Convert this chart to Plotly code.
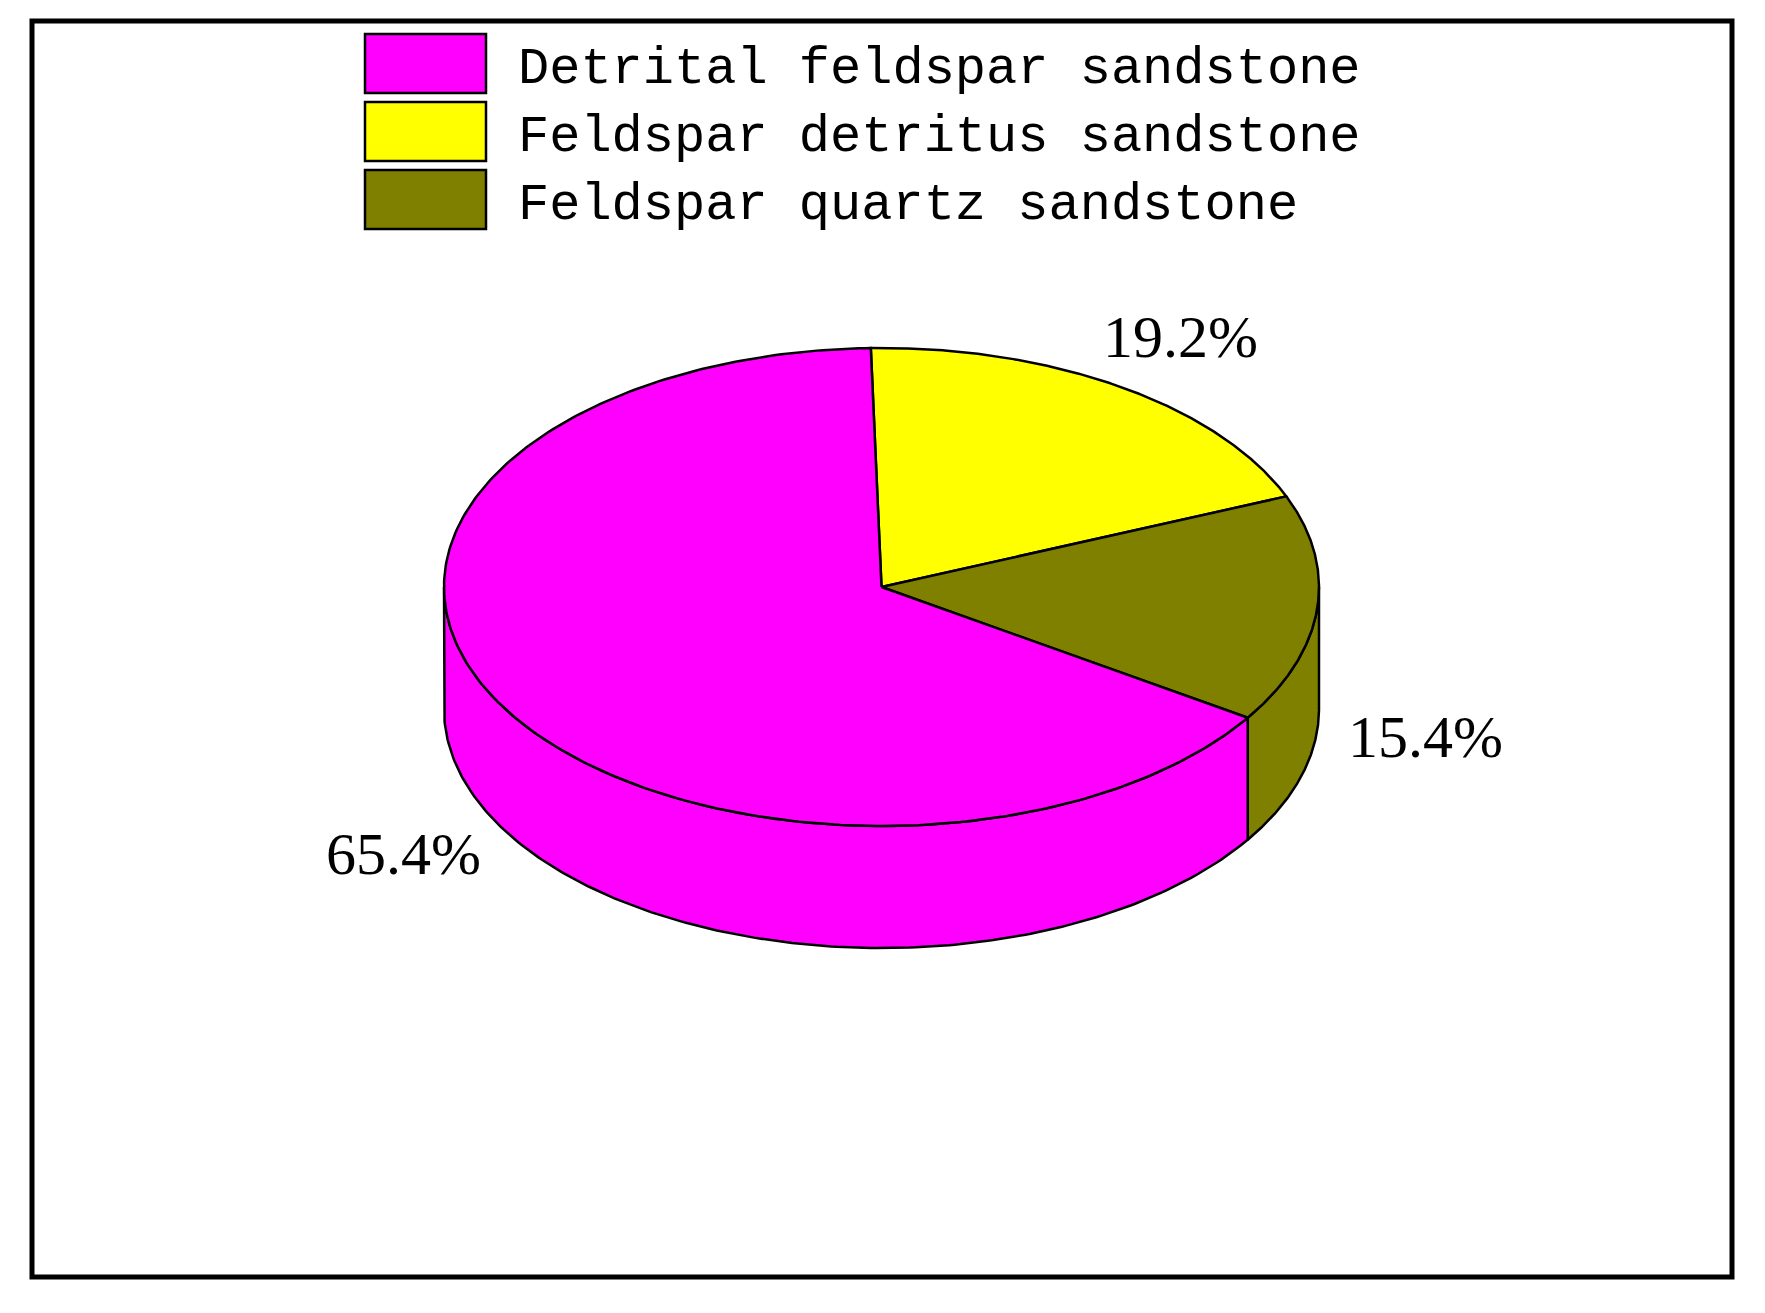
import numpy as np
import plotly.graph_objects as go

categories = ["Detrital feldspar sandstone", "Feldspar detritus sandstone", "Feldspar quartz sandstone"]
values = [65.4, 19.2, 15.4]
colors = ["#FF00FF", "#FFFF00", "#808000"]

# draw order around the pie (clockwise from top): yellow, olive, magenta
draw_order = [1, 2, 0]

W, H = 1765, 1313
OFF = 8  # default page body margin
CX, CY, RX, RY, DEPTH = 881.5, 587.0, 437.5, 239.0, 122.0
START = 91.4  # degrees, parametric, CCW from +x; slices go clockwise
LW = 2.5

def pt(t_deg, dy=0.0):
    t = np.radians(t_deg)
    return CX + RX * np.cos(t), CY - RY * np.sin(t) + dy

fig = go.Figure()

total = sum(values)
spans = {}
a = START
for i in draw_order:
    sweep = 360.0 * values[i] / total
    spans[i] = (a, a - sweep)
    a -= sweep

# side faces (front half: parametric angles in [-180, 0])
for i in draw_order:
    s, e = spans[i]
    hi, lo = min(s, 0.0), max(e, -180.0)
    if hi <= lo:
        continue
    ts = np.linspace(hi, lo, 200)
    xt, yt = pt(ts)
    xb, yb = pt(ts[::-1], DEPTH)
    xs = np.concatenate([xt, xb, xt[:1]])
    ys = np.concatenate([yt, yb, yt[:1]])
    fig.add_trace(go.Scatter(x=xs, y=ys, mode="lines", fill="toself",
                             fillcolor=colors[i], line=dict(color="black", width=LW),
                             hoverinfo="skip", showlegend=False))

# top faces
for i in draw_order:
    s, e = spans[i]
    ts = np.linspace(s, e, 300)
    xa, ya = pt(ts)
    xs = np.concatenate([[CX], xa, [CX]])
    ys = np.concatenate([[CY], ya, [CY]])
    fig.add_trace(go.Scatter(x=xs, y=ys, mode="lines", fill="toself",
                             fillcolor=colors[i], line=dict(color="black", width=LW),
                             hoverinfo="skip", showlegend=False))

# percentage labels
annotations = []
for i in draw_order:
    s, e = spans[i]
    m = (s + e) / 2.0
    mr = np.radians(m)
    x = CX + 1.25 * RX * np.cos(mr)
    y = CY - 1.25 * RY * np.sin(mr) + (DEPTH if np.sin(mr) < 0 else 0)
    annotations.append(dict(x=x, y=y, xref="x", yref="y", text=f"{values[i]}%",
                            showarrow=False, xanchor="center", yanchor="middle",
                            font=dict(family="Liberation Serif", size=60, color="black")))

# legend (boxes + text)
shapes = []
leg_tops = [34, 102, 170]
box_h = 59
for k, i in enumerate(range(len(categories))):
    y0 = leg_tops[k]
    shapes.append(dict(type="rect", xref="x", yref="y", x0=365, x1=486, y0=y0, y1=y0 + box_h,
                       fillcolor=colors[i], line=dict(color="black", width=2.5)))
    annotations.append(dict(x=516, y=y0 + box_h / 2 + 6, xref="x", yref="y", text=categories[i],
                            showarrow=False, xanchor="left", yanchor="middle",
                            font=dict(family="Liberation Mono", size=52, color="black")))

# frame
shapes.append(dict(type="rect", xref="x", yref="y", x0=32, x1=1732, y0=21, y1=1277,
                   line=dict(color="black", width=5), fillcolor="rgba(0,0,0,0)"))

fig.update_layout(
    width=W, height=H, margin=dict(l=0, r=0, t=0, b=0),
    paper_bgcolor="white", plot_bgcolor="white",
    xaxis=dict(range=[OFF, W + OFF], visible=False, fixedrange=True),
    yaxis=dict(range=[H + OFF, OFF], visible=False, fixedrange=True),
    shapes=shapes, annotations=annotations, showlegend=False,
)

fig.write_html("out.html")
